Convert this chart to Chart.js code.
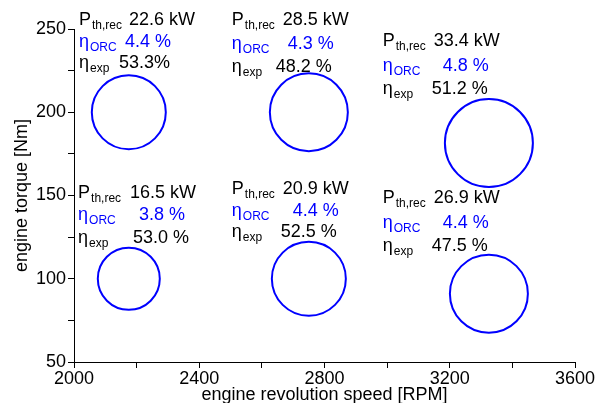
<!DOCTYPE html>
<html>
<head>
<meta charset="utf-8">
<script src="https://cdn.jsdelivr.net/npm/chart.js@4/dist/chart.umd.min.js"></script>
<style>
  body { margin: 0; background: #fff; }
  canvas { display: block; }
</style>
</head>
<body>
<canvas id="grafico" width="603" height="403"></canvas>
<script>
// dados
const rotacao = [2175, 2750, 3325, 2175, 2750, 3325];      // rpm
const torque = [200, 200, 181.5, 100, 100, 91];            // Nm
const raio = [37, 39, 44, 31, 37, 39];                     // tamanho da bolha
const pThRec = ['22.6', '28.5', '33.4', '16.5', '20.9', '26.9'];
const etaOrc = ['4.4', '4.3', '4.8', '3.8', '4.4', '4.4'];
const etaExp = ['53.3%', '48.2 %', '51.2 %', '53.0 %', '52.5 %', '47.5 %'];

const xTicksLabel = [2000, 2400, 2800, 3200, 3600];
const yTicksLabel = [50, 100, 150, 200, 250];

// posição dos blocos de texto (unidades do gráfico) e deslocamentos em px
const blocoPos = [
    { x: 2016, y: 252.4 }, { x: 2504, y: 252.4 }, { x: 2986, y: 239.8 },
    { x: 2013, y: 148.5 }, { x: 2504, y: 150.9 }, { x: 2986, y: 145.5 },
];
const valorDx = [[50, 46, 40], [51, 56, 44], [51, 60, 49], [52, 61, 55], [51, 61, 49], [51, 60, 49]];
const linhaDy = [[0, 22, 43], [0, 24, 47], [0, 25, 48], [0, 22, 45], [0, 22, 43], [0, 25, 48]];

const FONTE = "'Liberation Sans', Arial, sans-serif";
const AZUL = '#0000ff';

// zera o padding automático das escalas para fixar a área do gráfico
function fixarEscala(s, tam) {
    if (s.isHorizontal()) s.height = tam;
    else s.width = tam;
    s.paddingTop = 0;
    s.paddingBottom = 0;
    s.paddingLeft = 0;
    s.paddingRight = 0;
}

// ======================== TEXTOS DAS BOLHAS ========================
const textosPlugin = {
    id: 'textos',
    afterDatasetsDraw(chart) {
        const { ctx, scales } = chart;
        ctx.save();
        ctx.textBaseline = 'alphabetic';
        ctx.textAlign = 'left';

        const linha = (x, y, main, sub, valor, dx, cor) => {
            ctx.fillStyle = cor;
            ctx.font = `18px ${FONTE}`;
            ctx.fillText(main, x, y);
            const w = ctx.measureText(main).width;
            ctx.font = `12px ${FONTE}`;
            ctx.fillText(sub, x + w + 1, y + 4);
            ctx.font = `18px ${FONTE}`;
            ctx.fillText(valor, x + dx, y);
        };

        blocoPos.forEach((p, i) => {
            const x = scales.x.getPixelForValue(p.x);
            const y = scales.y.getPixelForValue(p.y);
            linha(x, y + linhaDy[i][0], 'P', 'th,rec', `${pThRec[i]} kW`, valorDx[i][0], '#000');
            linha(x, y + linhaDy[i][1], 'η', 'ORC', `${etaOrc[i]} %`, valorDx[i][1], AZUL);
            linha(x, y + linhaDy[i][2], 'η', 'exp', etaExp[i], valorDx[i][2], '#000');
        });
        ctx.restore();
    },
};

new Chart(document.getElementById('grafico'), {
    type: 'bubble',
    data: {
        datasets: [
            {
                data: rotacao.map((x, i) => ({ x, y: torque[i], r: raio[i] })),
                backgroundColor: 'rgba(0,0,0,0)',
                borderColor: AZUL,
                borderWidth: 2,
                clip: false,
            },
        ],
    },
    options: {
        responsive: false,
        animation: false,
        events: [],
        layout: { autoPadding: false, padding: { top: 29, right: 28, left: 0, bottom: 0 } },
        plugins: { legend: { display: false }, tooltip: { enabled: false } },
        scales: {
            x: {
                type: 'linear',
                min: 2000,
                max: 3600,
                afterFit: (s) => fixarEscala(s, 41),
                ticks: {
                    stepSize: 200,
                    color: '#000',
                    font: { family: FONTE, size: 18 },
                    padding: 0,
                    maxRotation: 0,
                    callback: (v) => (xTicksLabel.includes(v) ? v : ''),
                },
                grid: { drawOnChartArea: false, drawTicks: true, tickLength: 6, color: '#000' },
                border: { display: true, color: '#000', width: 1 },
                title: {
                    display: true,
                    text: 'engine revolution speed [RPM]',
                    color: '#000',
                    font: { family: FONTE, size: 18 },
                    padding: { top: 0, bottom: -3 },
                },
            },
            y: {
                min: 50,
                max: 250,
                afterFit: (s) => fixarEscala(s, 74),
                ticks: {
                    stepSize: 25,
                    color: '#000',
                    font: { family: FONTE, size: 18 },
                    padding: 2,
                    callback: (v) => (yTicksLabel.includes(v) ? v : ''),
                },
                grid: { drawOnChartArea: false, drawTicks: true, tickLength: 6, color: '#000' },
                border: { display: true, color: '#000', width: 1 },
                title: {
                    display: true,
                    text: 'engine torque [Nm]',
                    color: '#000',
                    font: { family: FONTE, size: 18 },
                    padding: { top: 11, bottom: 0 },
                },
            },
        },
    },
    plugins: [textosPlugin],
});
</script>
</body>
</html>
